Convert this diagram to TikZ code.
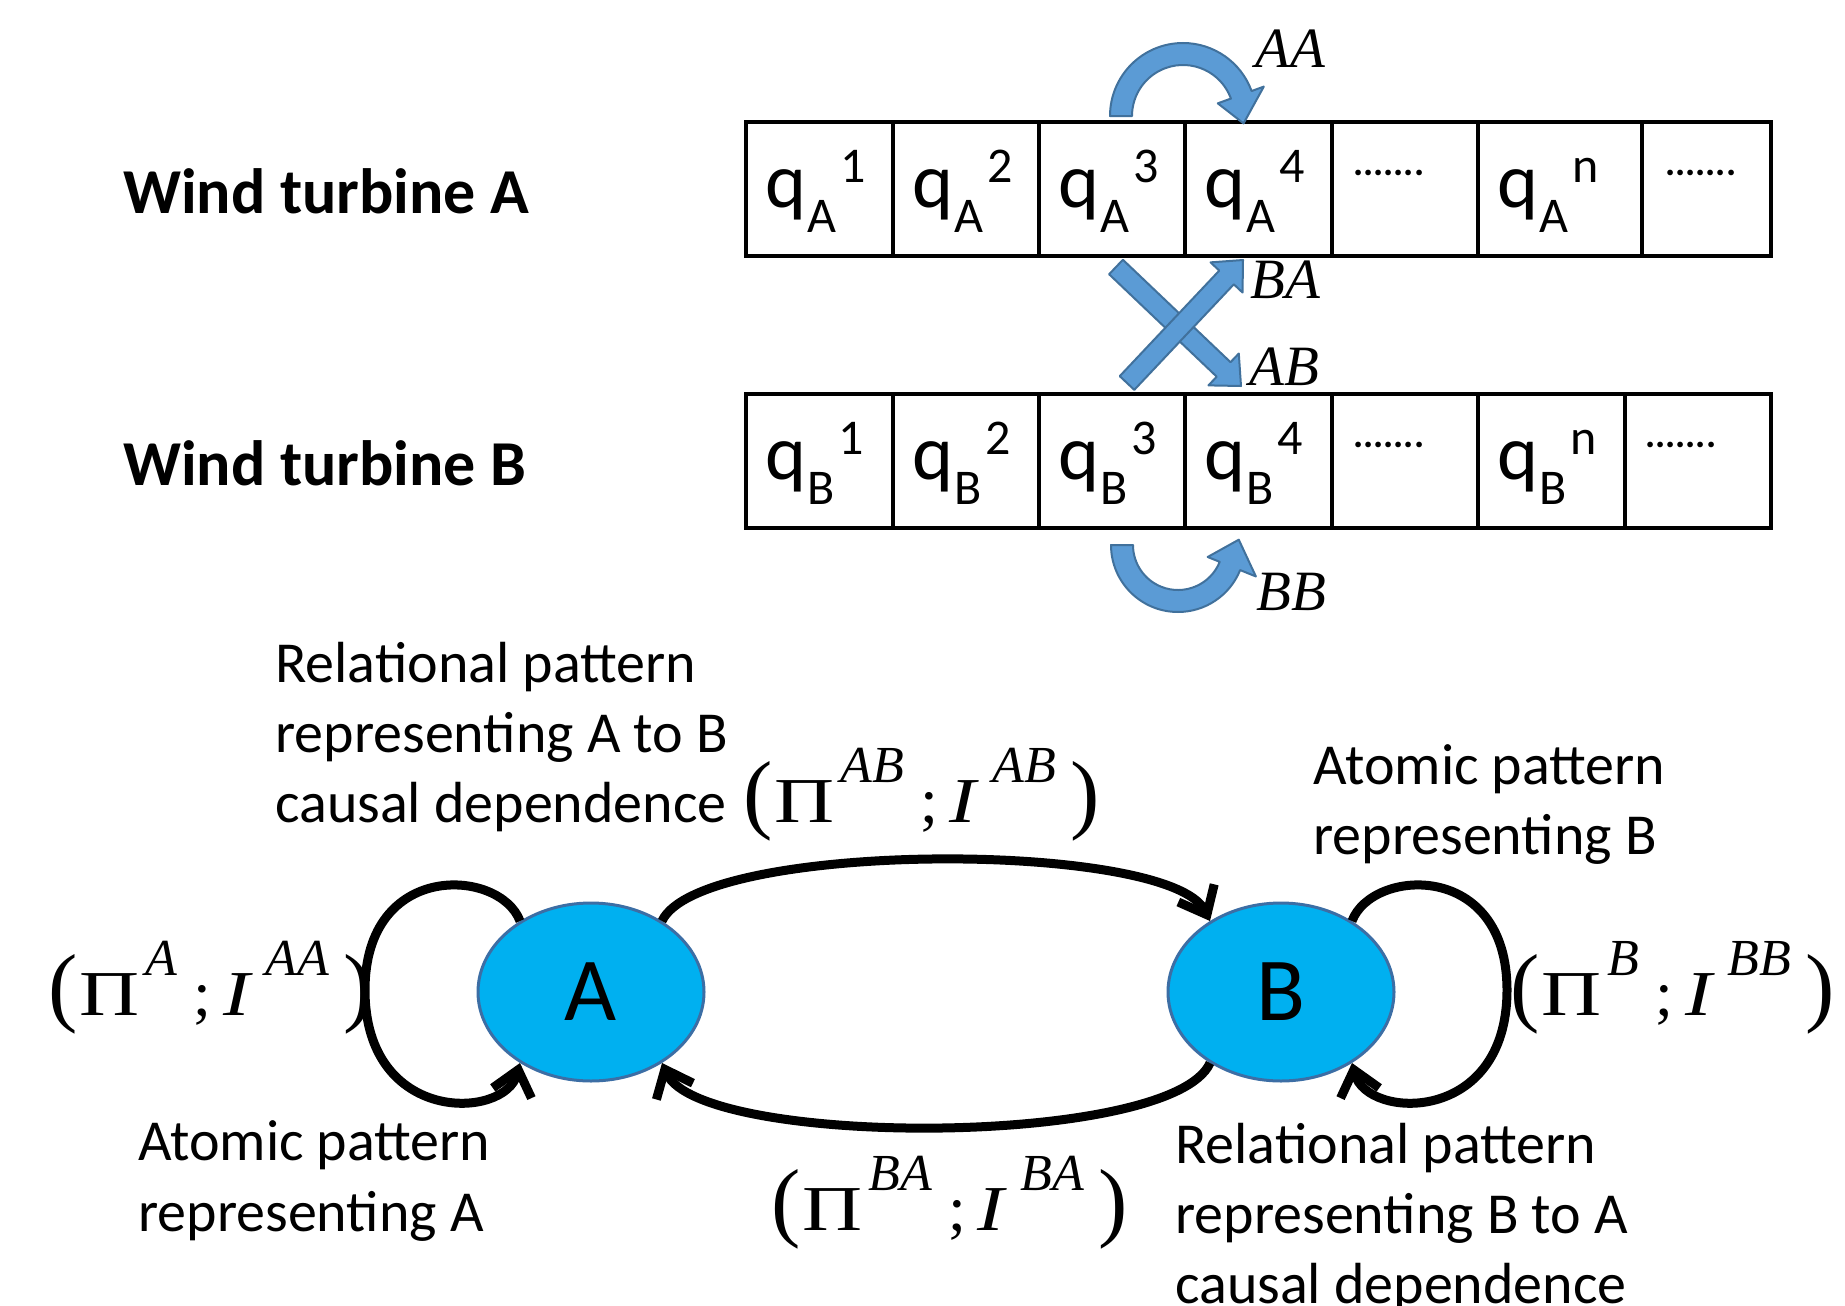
\documentclass[tikz,border=0pt]{standalone}
\usepackage{fontspec}
\usepackage{graphicx}
\setmainfont{Carlito}
\newfontfamily\tms{Liberation Serif}
\usetikzlibrary{calc,arrows.meta,shapes.geometric}
\definecolor{blkfill}{RGB}{91,155,213}
\definecolor{blkdraw}{RGB}{65,113,156}
\definecolor{nodefill}{RGB}{0,176,240}
\definecolor{nodedraw}{RGB}{60,110,165}
\newcommand\qcell[2]{{\fontsize{78}{78}\selectfont q}\kern1pt\raisebox{-25pt}{\fontsize{50}{50}\selectfont #1}\kern4pt\raisebox{25pt}{\fontsize{50}{50}\selectfont #2}}
\newcommand\pilab[2]{{\tms
 {\fontsize{88}{88}\selectfont(}\kern2pt
 {\fontsize{64}{64}\selectfont\scalebox{1.3}[1]{Π}}\kern6pt
 \raisebox{40pt}{\fontsize{52}{52}\selectfont\itshape #1}\kern16pt
 {\fontsize{64}{64}\selectfont;}\kern12pt
 {\fontsize{64}{64}\selectfont\itshape\scalebox{1.25}[1]{I}}\kern16pt
 \raisebox{40pt}{\fontsize{52}{52}\selectfont\itshape #2}\kern14pt
 {\fontsize{88}{88}\selectfont)}}}
\begin{document}
\begin{tikzpicture}[x=1pt,y=-1pt,
  cell/.style={draw, line width=3.5pt, minimum height=134pt, inner sep=0pt, anchor=north west},
  qtxt/.style={anchor=base west, inner sep=0pt},
  dots/.style={anchor=base west, inner sep=0pt, font=\bfseries\fontsize{38}{38}\selectfont},
  title/.style={anchor=base west, inner sep=0pt, font=\bfseries\fontsize{64}{64}\selectfont},
  body/.style={anchor=base west, inner sep=0pt, font=\fontsize{58}{58}\selectfont},
  mlab/.style={anchor=base west, inner sep=0pt},
  lbl/.style={anchor=base west, inner sep=0pt, font={\tms\itshape\fontsize{57}{57}\selectfont}},
  blockarrow/.style={fill=blkfill, draw=blkdraw, line width=2pt, line join=round},
  ent/.style={ellipse, fill=nodefill, draw=nodedraw, line width=3pt, minimum width=226pt, minimum height=178pt, inner sep=0pt, font=\fontsize{90}{90}\selectfont},
  link/.style={line width=9pt, -{Straight Barb[length=24pt,width=40pt]}}
]
\useasboundingbox (0,0) rectangle (1845,1306);

% titles
\node[title] (wta) at (123,213) {Wind turbine A};
\node[title] (wtb) at (123,485) {Wind turbine B};

% row A cells
\node[cell, minimum width=147pt] (a1) at (744,120) {};
\node[cell, minimum width=146pt] (a2) at (891,120) {};
\node[cell, minimum width=146pt] (a3) at (1037,120) {};
\node[cell, minimum width=147pt] (a4) at (1183,120) {};
\node[cell, minimum width=146pt] (a5) at (1330,120) {};
\node[cell, minimum width=164pt] (a6) at (1476,120) {};
\node[cell, minimum width=129pt] (a7) at (1640,120) {};
% row B cells
\node[cell, minimum width=147pt] (b1) at (744,392) {};
\node[cell, minimum width=146pt] (b2) at (891,392) {};
\node[cell, minimum width=146pt] (b3) at (1037,392) {};
\node[cell, minimum width=147pt] (b4) at (1183,392) {};
\node[cell, minimum width=146pt] (b5) at (1330,392) {};
\node[cell, minimum width=147pt] (b6) at (1476,392) {};
\node[cell, minimum width=146pt] (b7) at (1623,392) {};

% cell texts
\node[qtxt] (qa1) at (765,207) {\qcell{A}{1}};
\node[qtxt] (qa2) at (912,207) {\qcell{A}{2}};
\node[qtxt] (qa3) at (1058,207) {\qcell{A}{3}};
\node[qtxt] (qa4) at (1204,207) {\qcell{A}{4}};
\node[dots] (da5) at (1353,175) {.......};
\node[qtxt] (qa6) at (1497,207) {\qcell{A}{n}};
\node[dots] (da7) at (1665,175) {.......};
\node[qtxt] (qb1) at (765,479) {\qcell{B}{1}};
\node[qtxt] (qb2) at (912,479) {\qcell{B}{2}};
\node[qtxt] (qb3) at (1058,479) {\qcell{B}{3}};
\node[qtxt] (qb4) at (1204,479) {\qcell{B}{4}};
\node[dots] (db5) at (1353,447) {.......};
\node[qtxt] (qb6) at (1497,479) {\qcell{B}{n}};
\node[dots] (db7) at (1645,447) {.......};

% AA curved block arrow
\coordinate (aac) at (1183,116);
\path[blockarrow] ($(aac)+(180:73)$) arc[start angle=180,end angle=340,radius=73]
  -- ($(aac)+(340:86)$) -- ($(aac)+(367:61)$) -- ($(aac)+(340:37)$) -- ($(aac)+(340:51)$)
  arc[start angle=340,end angle=180,radius=51] -- cycle;
\node[lbl] (laa) at (1255,68) {AA};

% BB curved block arrow
\coordinate (bbc) at (1178,545);
\path[blockarrow] ($(bbc)+(180:67)$) arc[start angle=180,end angle=22,radius=67]
  -- ($(bbc)+(22:84)$) -- ($(bbc)+(-5:61)$) -- ($(bbc)+(22:32)$) -- ($(bbc)+(22:45)$)
  arc[start angle=22,end angle=180,radius=45] -- cycle;
\node[lbl] (lbb) at (1256,610) {BB};

% cross arrows
\coordinate (abs) at (1116,267); \coordinate (abt) at (1241,386);
\coordinate (abh) at ($(abt)!24pt!(abs)$);
\path[blockarrow] ($(abs)!10pt!90:(abt)$) -- ($(abh)!10pt!90:(abt)$) -- ($(abh)!22pt!90:(abt)$)
  -- (abt) -- ($(abh)!22pt!-90:(abt)$) -- ($(abh)!10pt!-90:(abt)$) -- ($(abs)!10pt!-90:(abt)$) -- cycle;
\coordinate (bas) at (1127,383); \coordinate (bat) at (1243,260);
\coordinate (bah) at ($(bat)!24pt!(bas)$);
\path[blockarrow] ($(bas)!10pt!90:(bat)$) -- ($(bah)!10pt!90:(bat)$) -- ($(bah)!22pt!90:(bat)$)
  -- (bat) -- ($(bah)!22pt!-90:(bat)$) -- ($(bah)!10pt!-90:(bat)$) -- ($(bas)!10pt!-90:(bat)$) -- cycle;
\node[lbl] (lba) at (1250,298) {BA};
\node[lbl] (lab) at (1249,385) {AB};

% graph
\node[ent] (A) at (591,992) {A};
\node[ent] (B) at (1281,992) {B};

\draw[link] (A.135) .. controls (500,868) and (365,860) .. (365,990)
  .. controls (365,1125) and (505,1120) .. (A.225);
\draw[link] (B.45) .. controls (1372,868) and (1507,860) .. (1507,990)
  .. controls (1507,1125) and (1367,1120) .. (B.315);
\draw[link] (A.45) .. controls (700,840) and (1170,840) .. (B.135);
\draw[link] (B.225) .. controls (1172,1148) and (700,1148) .. (A.315);

% math labels
\node[mlab] (pab) at (743,822) {\pilab{AB}{AB}};
\node[mlab] (paa) at (48,1015) {\pilab{A}{AA}};
\node[mlab] (pbb) at (1510,1015) {\pilab{B}{BB}};
\node[mlab] (pba) at (771,1230) {\pilab{BA}{BA}};

% descriptions
\node[body] (t1a) at (275,682) {Relational pattern};
\node[body] (t1b) at (275,752) {representing A to B};
\node[body] (t1c) at (275,822) {causal dependence};
\node[body] (t2a) at (1313,784) {Atomic pattern};
\node[body] (t2b) at (1313,854) {representing B};
\node[body] (t3a) at (138,1160) {Atomic pattern};
\node[body] (t3b) at (138,1231) {representing A};
\node[body] (t4a) at (1175,1163) {Relational pattern};
\node[body] (t4b) at (1175,1233) {representing B to A};
\node[body] (t4c) at (1175,1303) {causal dependence};
\end{tikzpicture}
\end{document}
